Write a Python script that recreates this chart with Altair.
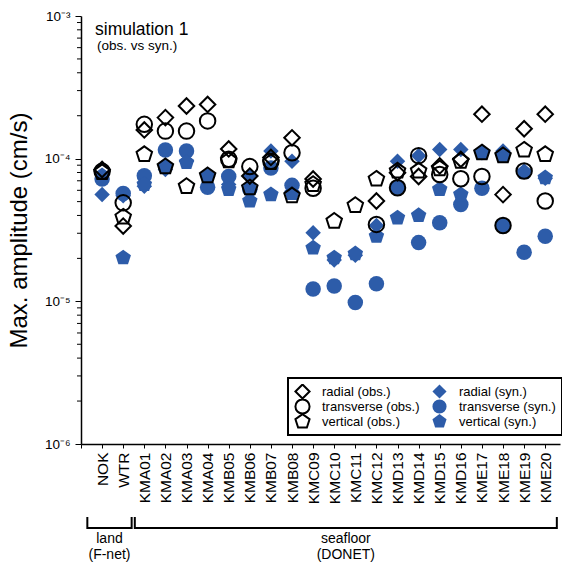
import altair as alt
import pandas as pd

# ---------------- data ----------------
stations = ["NOK", "WTR", "KMA01", "KMA02", "KMA03", "KMA04", "KMB05", "KMB06",
            "KMB07", "KMB08", "KMC09", "KMC10", "KMC11", "KMC12", "KMD13", "KMD14",
            "KMD15", "KMD16", "KME17", "KME18", "KME19", "KME20"]

radial_obs = [8.4e-5, 3.37e-5, 1.59e-4, 1.94e-4, 2.34e-4, 2.40e-4, 1.17e-4, 7.55e-5,
              1.02e-4, 1.40e-4, 7.2e-5, None, None, 5.05e-5, 7.96e-5, 7.5e-5,
              8.9e-5, 9.9e-5, 2.05e-4, 5.6e-5, 1.62e-4, 2.05e-4]
transverse_obs = [8.15e-5, 4.9e-5, 1.74e-4, 1.56e-4, 1.56e-4, 1.84e-4, 9.9e-5, 8.8e-5,
                  9.6e-5, 1.10e-4, 6.2e-5, None, None, 3.46e-5, 6.25e-5, 1.05e-4,
                  7.75e-5, 7.23e-5, 7.5e-5, 3.4e-5, 8.2e-5, 5.05e-5]
vertical_obs = [8.0e-5, 3.9e-5, 1.07e-4, 8.8e-5, 6.4e-5, 7.6e-5, 9.7e-5, 6.25e-5,
                9.4e-5, 5.5e-5, 6.6e-5, 3.65e-5, 4.7e-5, 7.2e-5, 8.2e-5, 8.2e-5,
                8.5e-5, 9.6e-5, 1.10e-4, 1.05e-4, 1.15e-4, 1.07e-4]
radial_syn = [5.6e-5, 5.5e-5, 6.4e-5, 8.4e-5, 9.6e-5, 7.5e-5, 6.6e-5, 7.5e-5,
              1.13e-4, 9.6e-5, 3.03e-5, 1.95e-5, 2.1e-5, 3.4e-5, 9.6e-5, 1.05e-4,
              1.16e-4, 1.16e-4, 1.10e-4, 1.13e-4, 8.2e-5, 7.3e-5]
transverse_syn = [7.2e-5, 5.7e-5, 7.6e-5, 1.15e-4, 1.13e-4, 6.3e-5, 7.5e-5, 6.1e-5,
                  8.6e-5, 6.5e-5, 1.22e-5, 1.28e-5, 9.8e-6, 1.33e-5, 6.3e-5, 2.58e-5,
                  3.55e-5, 4.77e-5, 6.2e-5, 3.4e-5, 2.21e-5, 2.86e-5]
vertical_syn = [7.6e-5, 2.02e-5, 6.6e-5, 8.8e-5, 9.4e-5, 7.5e-5, 6.1e-5, 5.05e-5,
                5.6e-5, 5.7e-5, 2.37e-5, 2.02e-5, 2.16e-5, 2.86e-5, 3.85e-5, 4.0e-5,
                6.1e-5, 5.6e-5, 1.10e-4, 1.05e-4, 8.0e-5, 7.35e-5]

series_order = ["radial (obs.)", "transverse (obs.)", "vertical (obs.)",
                "radial (syn.)", "transverse (syn.)", "vertical (syn.)"]

y_major = [1e-6, 1e-5, 1e-4, 1e-3]
y_major_labels = ["10⁻⁶", "10⁻⁵", "10⁻⁴", "10⁻³"]
y_minor = [m * 10.0 ** e for e in (-6, -5, -4) for m in range(2, 10)]

title_main = "simulation 1"
title_sub = "(obs. vs syn.)"

groups = ["land\n(F-net)", "seafloor\n(DONET)"]
group_lo = [0.3, 2.55]
group_hi = [2.4, 22.55]

# ---------------- styles ----------------
FONT = "Liberation Sans"
BLUE = "#2d5ca9"
PENT = "M0,-1.05L1,-0.32L0.62,0.85L-0.62,0.85L-1,-0.32Z"
shape_range = ["diamond", "circle", PENT, "diamond", "circle", PENT]
fill_range = ["transparent", "transparent", "transparent", BLUE, BLUE, BLUE]
stroke_range = ["black", "black", "black", "transparent", "transparent", "transparent"]

draw_order = [("radial (syn.)", radial_syn), ("transverse (syn.)", transverse_syn),
              ("vertical (syn.)", vertical_syn), ("transverse (obs.)", transverse_obs),
              ("vertical (obs.)", vertical_obs), ("radial (obs.)", radial_obs)]
rows = []
for name, vals in draw_order:
    for i, (s, v) in enumerate(zip(stations, vals)):
        if v is not None:
            rows.append({"station": s, "idx": i + 1, "amp": v, "series": name})
df = pd.DataFrame(rows)

xscale = alt.Scale(domain=[0, 22.7], nice=False, zero=False)
yscale = alt.Scale(type="log", domain=[1e-6, 1e-3], nice=False)

x_label_expr = "[" + ",".join(["''"] + [f"'{s}'" for s in stations]) + "][datum.value]"
y_label_expr = "[" + ",".join(f"'{t}'" for t in y_major_labels) + "][round(log(datum.value)/LN10)+6]"

x_axis = alt.Axis(values=list(range(0, 23)), labelExpr=x_label_expr, labelAngle=270,
                  title=None, grid=False, tickSize=4, labelFontSize=15.5, labelPadding=4)
y_axis = alt.Axis(values=y_major, labelExpr=y_label_expr, title="Max. amplitude (cm/s)",
                  titleFontSize=24, titleFontWeight="normal", titlePadding=13,
                  tickSize=6, labelFontSize=13.5, labelPadding=5, grid=False)

legend = alt.Legend(title=None, orient="none", legendX=207, legendY=362, columns=2,
                    padding=6, symbolSize=200, symbolStrokeWidth=2, labelFontSize=13,
                    labelFont=FONT, labelColor="black", columnPadding=11, rowPadding=0,
                    labelOffset=11, fillColor="white", strokeColor="black", clipHeight=15)

points = alt.Chart(df).mark_point(size=240, opacity=1, strokeWidth=2).encode(
    x=alt.X("idx:Q", scale=xscale, axis=x_axis),
    y=alt.Y("amp:Q", scale=yscale, axis=y_axis),
    shape=alt.Shape("series:N", scale=alt.Scale(domain=series_order, range=shape_range), legend=legend),
    fill=alt.Fill("series:N", scale=alt.Scale(domain=series_order, range=fill_range), legend=legend),
    stroke=alt.Stroke("series:N", scale=alt.Scale(domain=series_order, range=stroke_range), legend=legend),
)

minor = alt.Chart(pd.DataFrame({"amp": y_minor})).mark_rule(color="black", strokeWidth=1).encode(
    y=alt.Y("amp:Q", scale=yscale, axis=y_axis),
    x=alt.value(-4), x2=alt.value(0),
)

t1 = alt.Chart(pd.DataFrame({"t": [title_main]})).mark_text(
    font=FONT, fontSize=17.5, align="left", baseline="alphabetic", color="black"
).encode(text="t:N", x=alt.value(14), y=alt.value(19))
t2 = alt.Chart(pd.DataFrame({"t": [title_sub]})).mark_text(
    font=FONT, fontSize=13.5, align="left", baseline="alphabetic", color="black"
).encode(text="t:N", x=alt.value(16), y=alt.value(34))

gdf = pd.DataFrame({"label": groups, "lo": group_lo, "hi": group_hi})
gdf["mid"] = (gdf["lo"] + gdf["hi"]) / 2
hline = alt.Chart(gdf).mark_rule(color="black", strokeWidth=2).encode(
    x=alt.X("lo:Q", scale=xscale, axis=x_axis), x2="hi:Q", y=alt.value(512))
lend = alt.Chart(gdf).mark_rule(color="black", strokeWidth=2).encode(
    x=alt.X("lo:Q", scale=xscale, axis=x_axis), y=alt.value(501), y2=alt.value(513))
rend = alt.Chart(gdf).mark_rule(color="black", strokeWidth=2).encode(
    x=alt.X("hi:Q", scale=xscale, axis=x_axis), y=alt.value(501), y2=alt.value(513))
gtext = alt.Chart(gdf).mark_text(
    font=FONT, fontSize=14, lineBreak="\n", lineHeight=16, baseline="alphabetic", color="black"
).encode(x=alt.X("mid:Q", scale=xscale, axis=x_axis), y=alt.value(527), text="label:N")

chart = alt.layer(points, minor, t1, t2, hline, lend, rend, gtext).properties(
    width=479, height=428,
    padding={"left": 81, "top": 16, "right": 2, "bottom": 120},
    autosize=alt.AutoSizeParams(type="none"),
).configure_view(stroke=None).configure_axis(
    domainColor="black", tickColor="black", labelColor="black", titleColor="black",
    labelFont=FONT, titleFont=FONT, domainWidth=1.5, tickWidth=1,
).configure_legend(strokeWidth=2, rowPadding=0)

chart.save("out.html", embed_options={"renderer": "svg", "actions": False})
